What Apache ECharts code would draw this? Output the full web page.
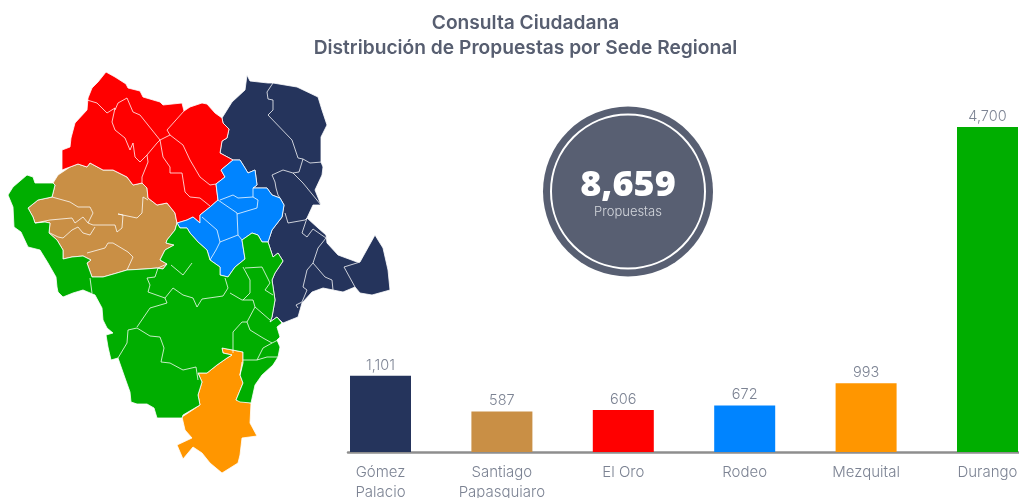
<!DOCTYPE html>
<html>
<head>
<meta charset="utf-8">
<style>html,body{margin:0;padding:0;background:#fff}#c{width:1019px;height:498px}</style>
<script src="https://cdn.jsdelivr.net/npm/echarts@6/dist/echarts.min.js"></script>
</head>
<body>
<div id="c"></div>
<script>
const titleText = 'Consulta Ciudadana\nDistribución de Propuestas por Sede Regional';
const categories = ['Gómez\nPalacio', 'Santiago\nPapasquiaro', 'El Oro', 'Rodeo', 'Mezquital', 'Durango'];
const values = [1101, 587, 606, 672, 993, 4700];
const colors = ['#25345c', '#c98f45', '#ff0000', '#0084ff', '#ff9600', '#00ae00'];
const totalValue = 8659;
const totalLabel = 'Propuestas';

// Map outlines, in the map's own units
const outlineGomez = [[247,75],[250,81],[268,83],[273,83],[297,87],[318,97],[322,110],[327,125],[321,137],[321,162],[323,167],[322,175],[315,190],[321,205],[313,205],[307,218],[318,228],[326,235],[327,243],[338,255],[357,262],[360,262],[375,235],[378,240],[383,248],[388,270],[390,290],[372,295],[360,293],[355,287],[343,292],[333,290],[323,288],[312,292],[302,303],[298,317],[283,323],[277,317],[270,322],[272,317],[275,300],[272,280],[275,273],[283,261],[278,253],[273,257],[268,242],[272,230],[282,217],[284,205],[280,198],[272,195],[267,188],[253,188],[257,185],[255,170],[248,173],[245,168],[240,160],[233,160],[220,153],[222,141],[227,138],[229,129],[223,123],[222,118],[232,102],[245,90]];
const outlineSantiago = [[53,183],[58,175],[70,167],[78,164],[87,167],[90,163],[103,170],[113,170],[127,177],[133,185],[142,183],[147,188],[148,198],[157,205],[167,203],[175,213],[177,223],[175,230],[167,240],[166,243],[174,245],[165,250],[160,260],[167,264],[163,269],[157,268],[145,269],[127,270],[117,273],[103,277],[92,277],[87,263],[91,260],[83,256],[72,257],[63,259],[63,250],[57,240],[49,233],[50,223],[45,222],[35,223],[33,217],[28,208],[38,200],[52,197],[55,185]];
const outlineOro = [[106,72],[115,77],[126,84],[128,88],[140,91],[143,97],[160,102],[163,105],[182,103],[184,111],[190,107],[202,103],[207,104],[215,113],[222,118],[223,123],[229,129],[227,138],[222,141],[220,153],[233,160],[221,170],[225,177],[216,184],[218,200],[210,207],[200,215],[200,223],[193,217],[187,220],[177,223],[175,213],[167,203],[157,205],[148,198],[147,188],[142,183],[133,185],[127,177],[113,170],[103,170],[90,163],[87,167],[78,164],[70,167],[62,170],[62,150],[70,147],[71,138],[75,123],[87,110],[88,98],[92,88],[98,82]];
const outlineRodeo = [[233,160],[240,160],[245,168],[248,173],[255,170],[257,185],[253,188],[267,188],[272,195],[280,198],[284,205],[282,217],[272,230],[268,242],[262,242],[258,235],[252,233],[242,240],[245,259],[235,267],[228,277],[220,275],[220,267],[210,260],[207,250],[198,242],[190,233],[187,228],[180,228],[177,223],[187,220],[193,217],[200,223],[200,215],[210,207],[218,200],[216,184],[225,177],[221,170]];
const outlineMezquital = [[222,348],[243,352],[243,363],[240,375],[243,383],[236,400],[251,403],[250,423],[257,436],[242,438],[240,455],[238,463],[222,473],[210,463],[202,453],[193,447],[183,459],[177,445],[192,438],[185,430],[182,417],[200,405],[198,395],[202,382],[198,373],[207,373],[217,365],[227,358],[232,355],[223,353]];
const outlineDurango = [[27,175],[33,177],[35,183],[53,183],[55,185],[52,197],[38,200],[28,208],[33,217],[35,223],[45,222],[50,223],[49,233],[57,240],[63,250],[63,259],[72,257],[83,256],[91,260],[87,263],[92,277],[103,277],[117,273],[127,270],[145,269],[157,268],[163,269],[167,264],[160,260],[165,250],[174,245],[166,243],[167,240],[175,230],[177,223],[180,228],[187,228],[190,233],[198,242],[207,250],[210,260],[220,267],[220,275],[228,277],[235,267],[245,259],[242,240],[252,233],[258,235],[262,242],[268,242],[273,257],[278,253],[283,261],[275,273],[272,280],[275,300],[272,317],[270,322],[277,317],[282,323],[277,327],[280,337],[277,340],[280,347],[278,357],[273,365],[262,375],[255,385],[251,403],[240,402],[236,400],[243,383],[240,375],[243,363],[243,352],[222,348],[223,353],[232,355],[227,358],[217,365],[207,373],[198,373],[202,382],[198,395],[200,405],[183,415],[182,418],[157,418],[154,408],[147,404],[137,404],[131,402],[130,392],[125,378],[118,358],[111,360],[108,347],[106,335],[113,333],[107,328],[103,320],[102,308],[95,295],[83,290],[73,293],[63,297],[58,292],[57,287],[56,277],[48,263],[40,250],[28,247],[21,232],[14,227],[13,207],[8,195],[13,187]];
const outlines = [outlineGomez, outlineSantiago, outlineOro, outlineRodeo, outlineMezquital, outlineDurango];

// Municipal borders inside each region
const bordersGomez = [
  [[273,83],[267,92],[268,99],[273,100],[273,110],[268,115],[292,140],[298,158],[303,159],[299,172],[293,173],[303,183],[321,205]],
  [[303,159],[310,163],[322,162]],
  [[293,173],[283,170],[272,175],[275,182],[276,188],[278,195],[280,198]],
  [[285,213],[288,223],[305,220],[307,218],[302,233],[307,237],[313,229],[326,238],[318,248],[313,263],[307,270],[303,287],[307,290],[302,302],[296,305],[298,308]],
  [[313,263],[325,277],[332,280],[333,290]],
  [[360,262],[344,267],[355,287]]
];
const bordersRodeo = [
  [[218,200],[237,213],[238,235],[220,242],[217,230],[202,217]],
  [[220,200],[233,195],[238,198],[253,197],[258,200],[257,208],[237,214]],
  [[253,188],[253,197]],
  [[238,235],[242,240]],
  [[220,242],[216,250],[210,260]]
];
const bordersOro = [
  [[87,100],[97,103],[107,113],[115,108],[112,122],[115,130],[125,138],[130,150],[133,143],[135,157],[140,162],[147,155],[157,143],[160,140],[148,125],[140,115],[133,112],[127,98],[118,103],[115,110]],
  [[147,155],[148,162],[142,177],[142,183]],
  [[184,111],[167,130],[170,135],[160,140],[163,157],[170,167],[170,173],[182,173],[185,192],[190,197],[200,198],[210,206]],
  [[170,135],[183,145],[190,160],[200,177],[210,185],[216,184]]
];
const bordersSantiago = [
  [[52,197],[70,202],[78,207],[90,207],[93,213],[88,223],[93,225],[115,225],[117,232],[122,228],[123,215],[118,214],[137,218],[142,213],[143,197],[148,200]],
  [[35,223],[50,220],[72,218],[75,223],[83,217],[88,223]],
  [[50,233],[58,237],[63,238],[72,230],[78,227],[83,233],[90,235],[95,227]],
  [[87,253],[105,248],[108,243],[113,243],[128,252],[133,257],[127,270]]
];
const bordersDurango = [
  [[90,278],[92,293]],
  [[167,264],[158,268],[155,277],[147,278],[150,285],[148,292],[165,298],[167,303],[150,308],[137,327]],
  [[137,328],[128,330],[127,343],[118,358]],
  [[137,328],[150,336],[160,337],[164,348],[161,362],[170,363],[183,370],[196,367],[198,380]],
  [[165,298],[173,288],[183,295],[193,298],[197,307],[202,299],[223,296],[228,288],[225,278]],
  [[171,265],[183,275],[192,263]],
  [[230,293],[242,300],[253,300],[255,307],[270,320]],
  [[243,267],[250,280],[250,293],[243,300]],
  [[245,268],[262,267],[270,283],[265,290],[273,295]],
  [[255,307],[247,322],[242,322],[233,332],[233,353]],
  [[247,322],[250,330],[263,338],[272,343],[263,348],[257,360],[243,360]],
  [[272,343],[278,340]],
  [[257,360],[267,357],[282,357],[273,365]],
  [[242,362],[240,375]]
];
const borders = [bordersGomez, bordersSantiago, bordersOro, bordersRodeo, bordersDurango];

const names = categories.map(c => c.replace('\n', ' '));
const geoJson = {
  type: 'FeatureCollection',
  features: outlines.map((ring, i) => ({
    type: 'Feature',
    properties: { name: names[i] },
    geometry: { type: 'Polygon', coordinates: [ring.concat([ring[0]])] }
  }))
};
echarts.registerMap('sedes', geoJson);

const FONT = 'Inter, "Noto Sans", sans-serif';
const chart = echarts.init(document.getElementById('c'), null, { renderer: 'canvas' });
chart.setOption({
  animation: false,
  backgroundColor: '#fff',
  title: {
    text: titleText, left: 520.5, top: 6, textAlign: 'center',
    textStyle: { fontFamily: FONT, fontSize: 19.2, fontWeight: 600, color: '#575e70', lineHeight: 25 }
  },
  geo: {
    map: 'sedes', roam: false, silent: true, aspectScale: 1,
    projection: { project: p => p, unproject: p => p },
    layoutCenter: [199, 272.5], layoutSize: 401,
    label: { show: false },
    itemStyle: { borderColor: '#ffffff', borderWidth: 0.8 },
    regions: names.map((name, i) => ({ name, itemStyle: { areaColor: colors[i] } }))
  },
  grid: [
    { left: 319.8, width: 728.4, top: 127, bottom: 46, outerBoundsMode: 'none' },
    { left: 348, right: 0, top: 127, bottom: 46, outerBoundsMode: 'none' }
  ],
  xAxis: [
    { type: 'category', gridIndex: 0, data: categories, axisLine: { show: false }, axisTick: { show: false },
      axisLabel: { interval: 0, margin: 10, fontFamily: FONT, fontSize: 15, fontWeight: 300, lineHeight: 20, color: '#7c8393' } },
    { type: 'category', gridIndex: 1, data: [''], axisTick: { show: false }, axisLabel: { show: false },
      axisLine: { show: true, lineStyle: { color: '#8e8e8e', width: 2.5 } } }
  ],
  yAxis: [
    { type: 'value', gridIndex: 0, min: 0, max: 4700, show: false },
    { type: 'value', gridIndex: 1, min: 0, max: 4700, show: false }
  ],
  series: [
    {
      type: 'bar', xAxisIndex: 0, yAxisIndex: 0, barWidth: 61,
      data: values.map((v, i) => ({ value: v, itemStyle: { color: colors[i] } })),
      label: { show: true, position: 'top', distance: 3, formatter: p => p.value.toLocaleString('en-US'),
        fontFamily: FONT, fontSize: 14.5, fontWeight: 300, color: '#7c8393' }
    },
    {
      type: 'lines', coordinateSystem: 'geo', polyline: true, silent: true,
      lineStyle: { color: '#ffffff', width: 0.9, opacity: 0.85 },
      data: borders.flat().map(coords => ({ coords }))
    }
  ],
  graphic: [
    { type: 'circle', shape: { cx: 628, cy: 191.5, r: 85 }, style: { fill: '#585f72' } },
    { type: 'circle', shape: { cx: 628, cy: 191.5, r: 77 }, style: { fill: 'none', stroke: '#ffffff', lineWidth: 2 } },
    { type: 'text', x: 628, y: 186, style: { text: totalValue.toLocaleString('en-US'), fill: '#ffffff', font: '800 36px "Open Sans", ' + FONT, textAlign: 'center', textVerticalAlign: 'middle' } },
    { type: 'text', x: 628, y: 212, style: { text: totalLabel, fill: '#d3d6dc', font: '300 13px ' + FONT, textAlign: 'center', textVerticalAlign: 'middle' } }
  ]
});
</script>
</body>
</html>
